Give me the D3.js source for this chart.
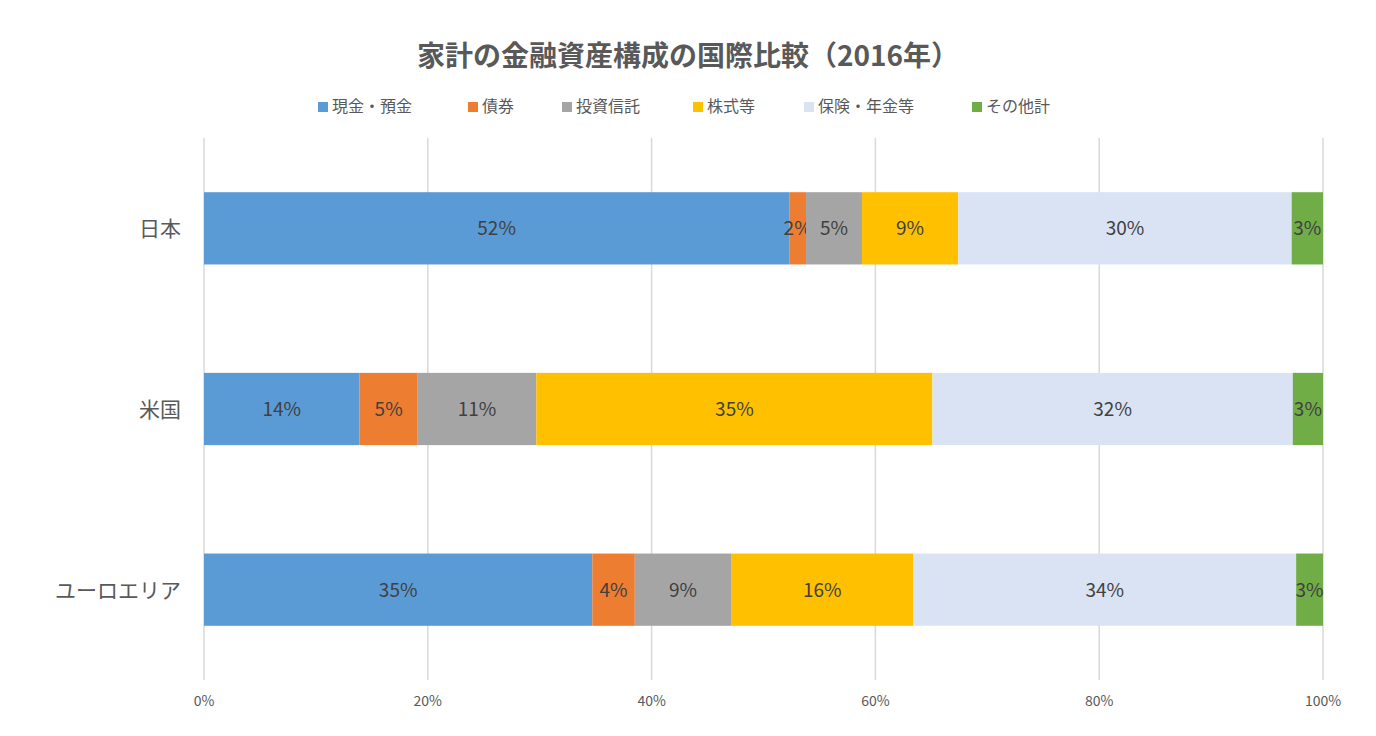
<!DOCTYPE html>
<html><head><meta charset="utf-8">
<script src="https://cdn.jsdelivr.net/npm/d3@7"></script>
<style>body{margin:0;background:#fff;font-family:"Noto Sans CJK JP","Noto Sans",sans-serif;}</style>
</head><body><svg id="c" width="1376" height="736"></svg>
<script>
const categories = ["日本","米国","ユーロエリア"];
const seriesNames = ["現金・預金","債券","投資信託","株式等","保険・年金等","その他計"];
const colors = ["#5B9BD5","#ED7D31","#A5A5A5","#FFC000","#DAE3F3","#70AD47"];
const japan = [52.3,1.5,5.0,8.6,29.8,2.8];
const us = [13.9,5.2,10.6,35.4,32.2,2.7];
const euro = [34.7,3.8,8.6,16.3,34.2,2.5];
const ticks = [0,20,40,60,80,100];
const values = [japan, us, euro];

const svg = d3.select("#c");
const x = d3.scaleLinear().domain([0,100]).range([204,1323]);
const y = d3.scaleBand().domain(categories).range([138,680]).paddingInner(0.6).paddingOuter(0.3);

svg.append("text").attr("x",688).attr("y",66).attr("text-anchor","middle")
  .attr("font-size",28).attr("font-weight","bold").attr("fill","#595959").text("家計の金融資産構成の国際比較（2016年）");

// legend
const lg = [[318,"現金・預金"],[468,"債券"],[562,"投資信託"],[693,"株式等"],[804,"保険・年金等"],[972,"その他計"]];
lg.forEach(([lx],i)=>{
  svg.append("rect").attr("x",lx).attr("y",102).attr("width",10).attr("height",10).attr("fill",colors[i]);
  svg.append("text").attr("x",lx+14).attr("y",112).attr("font-size",16).attr("fill","#595959").text(seriesNames[i]);
});

// grid
svg.selectAll(".g").data(ticks).enter().append("line")
  .attr("x1",d=>x(d)).attr("x2",d=>x(d)).attr("y1",138).attr("y2",680)
  .attr("stroke","#D9D9D9").attr("stroke-width",1.5);
svg.selectAll(".t").data(ticks).enter().append("text")
  .attr("x",d=>x(d)).attr("y",706).attr("text-anchor","middle").attr("font-size",14).attr("fill","#595959").text(d=>d+"%");

categories.forEach((c,ci)=>{
  let acc=0;
  values[ci].forEach((v,si)=>{
    const x0=x(acc), x1=x(Math.min(acc+v,100)); acc+=v;
    svg.append("rect").attr("x",x0).attr("y",y(c)).attr("width",x1-x0).attr("height",y.bandwidth()).attr("fill",colors[si]);
    svg.append("text").attr("x",(x0+x1)/2).attr("y",y(c)+y.bandwidth()/2+7).attr("text-anchor","middle")
      .attr("font-size",19).attr("fill","#404040").text(Math.round(v)+"%");
  });
  svg.append("text").attr("x",181).attr("y",y(c)+y.bandwidth()/2+8).attr("text-anchor","end")
    .attr("font-size",21).attr("fill","#595959").text(c);
});
</script></body></html>
